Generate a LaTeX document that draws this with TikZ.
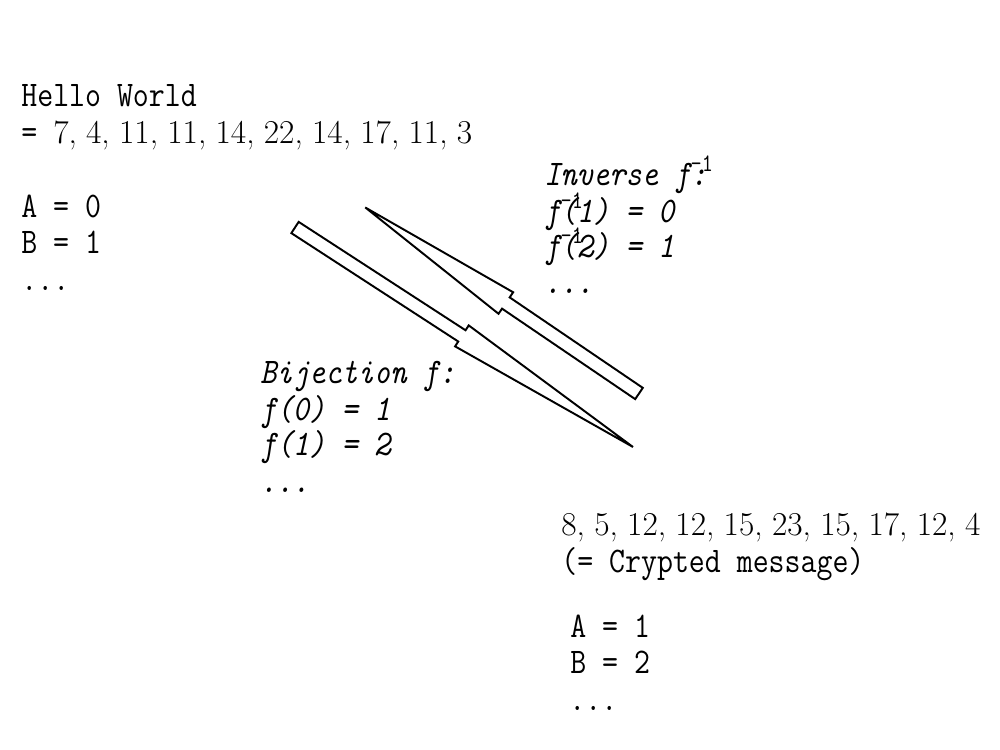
\documentclass[tikz,border=0pt]{standalone}
\usepackage{fontspec}
\setmonofont[FakeStretch=0.86]{Latin Modern Mono}
\newcommand\numseq[1]{{\rmfamily\fontsize{19}{24}\selectfont#1}}
\newcommand\inv{\rlap{\textsuperscript{\upshape -1}}}
\tikzset{
  txt/.style={anchor=base west, inner sep=0pt, font=\ttfamily\fontsize{20.5}{24}\selectfont},
  ital/.style={txt, font=\ttfamily\itshape\fontsize{20.5}{24}\selectfont},
  blockarrow/.style={line width=1.1pt, line join=miter}
}
\begin{document}
\begin{tikzpicture}[x=0.02cm, y=-0.02cm]
\useasboundingbox (0,0) rectangle (1000,750);

% Plain message and its codes
\node[txt] (hello) at (21,107) {Hello World};
\node[txt] (code) at (21,143) {= \numseq{7,\;4,\;11,\;11,\;14,\;22,\;14,\;17,\;11,\;3}};
\node[txt] (codeA) at (21,217) {A = 0};
\node[txt] (codeB) at (21,253) {B = 1};
\node[txt] (codeDots) at (21,290) {...};

% Inverse
\node[ital] (inv) at (544,185) {Inverse f\inv:};
\node[ital] (invA) at (544,222) {f\inv(1) = 0};
\node[ital] (invB) at (544,257) {f\inv(2) = 1};
\node[ital] (invDots) at (544,293) {...};

% Bijection
\node[ital] (bij) at (260,383) {Bijection f:};
\node[ital] (bijA) at (260,420) {f(0) = 1};
\node[ital] (bijB) at (260,455) {f(1) = 2};
\node[ital] (bijDots) at (260,492) {...};

% Crypted message and its codes
\node[txt] (crypt) at (561,535) {\numseq{8,\;5,\;12,\;12,\;15,\;23,\;15,\;17,\;12,\;4}};
\node[txt] (cryptNote) at (561,572) {(= Crypted message)};
\node[txt] (cA) at (570,637) {A = 1};
\node[txt] (cB) at (570,673) {B = 2};
\node[txt] (cDots) at (569,710) {...};

% Arrow of f
\draw[blockarrow, shift={(295,227.5)}, rotate=-33]
  (0,-6.7) -- (199,-6.7) -- (199,-12.5) -- (403,0) -- (199,12.5) -- (199,6.7) -- (0,6.7) -- cycle;

% Arrow of f^-1
\draw[blockarrow, shift={(639,393.5)}, rotate=145.8]
  (0,-6.8) -- (161,-6.8) -- (161,-13) -- (331,0) -- (161,13) -- (161,6.8) -- (0,6.8) -- cycle;

\end{tikzpicture}
\end{document}
